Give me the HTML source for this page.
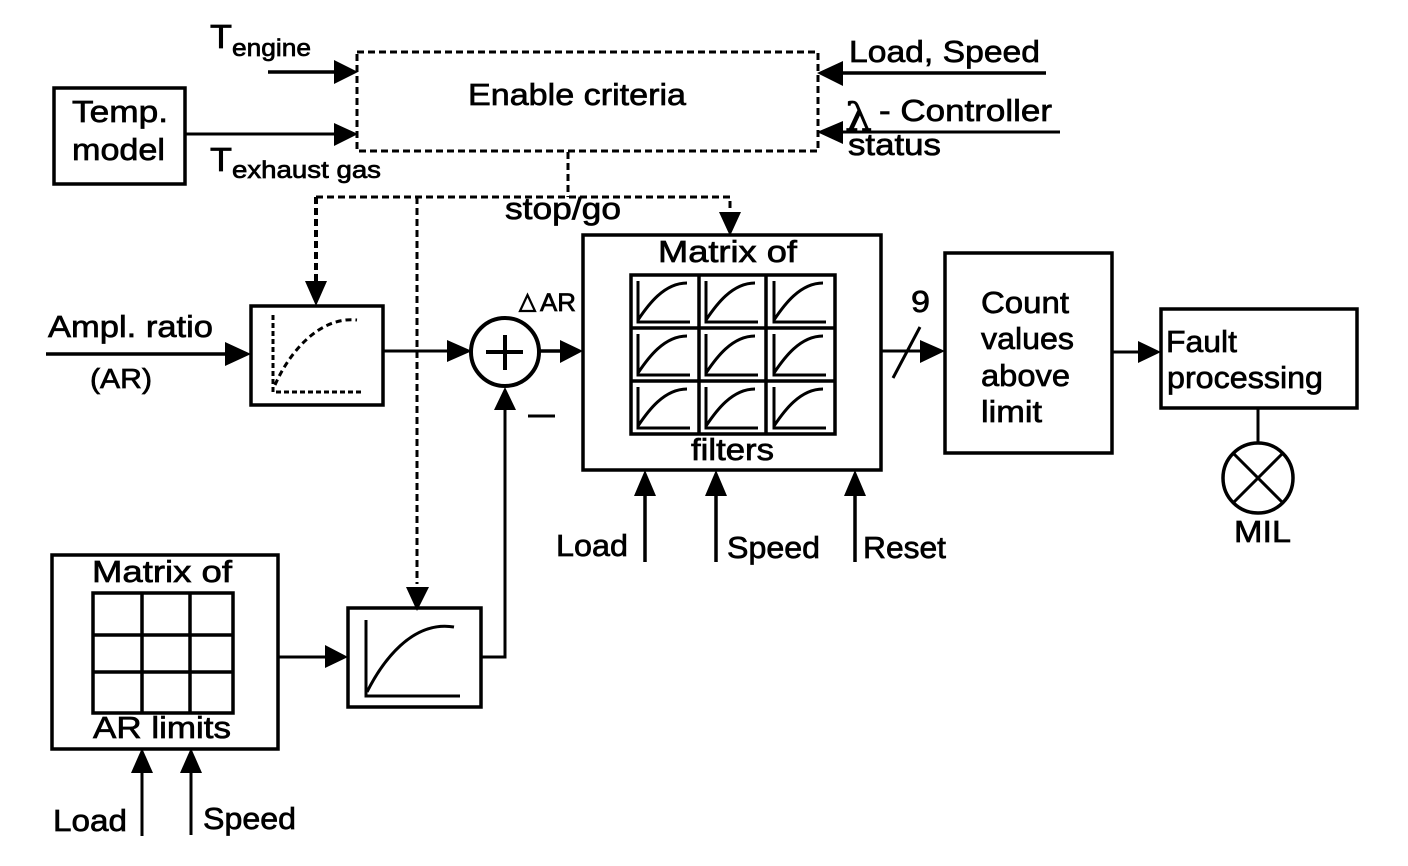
<!DOCTYPE html>
<html>
<head>
<meta charset="utf-8">
<style>
html,body{margin:0;padding:0;background:#fff}
svg{display:block}
text{font-family:"Liberation Sans",sans-serif;fill:#000;stroke:#000;stroke-width:.7px;font-size:31px}
.s{font-size:24px}
.b{fill:none;stroke:#000;stroke-width:3.5}
.t{fill:none;stroke:#000;stroke-width:3}
.d{fill:none;stroke:#000;stroke-width:3;stroke-dasharray:7 4}
.e{fill:none;stroke:#000;stroke-width:4;stroke-dasharray:7 4}
.c{fill:none;stroke:#000;stroke-width:3}
polygon{fill:#000;stroke:none}
</style>
</head>
<body>
<svg width="1408" height="866" viewBox="0 0 1408 866" xmlns="http://www.w3.org/2000/svg">
<defs>
<g id="m"><path class="c" d="M0 0V41H52"/><path class="c" d="M0 39C10 24 26 2 49 2"/></g>
</defs>
<rect width="1408" height="866" fill="#fff"/>

<!-- Top row -->
<rect class="b" x="54" y="88" width="131" height="96"/>
<text x="72" y="122" textLength="96" lengthAdjust="spacingAndGlyphs">Temp.</text>
<text x="72" y="160" textLength="93" lengthAdjust="spacingAndGlyphs">model</text>
<rect class="d" x="357" y="52" width="461" height="99"/>
<text x="468" y="105" textLength="218" lengthAdjust="spacingAndGlyphs">Enable criteria</text>

<text x="210" y="48" style="font-size:33px" textLength="22" lengthAdjust="spacingAndGlyphs">T</text>
<text class="s" x="232" y="56" textLength="79" lengthAdjust="spacingAndGlyphs">engine</text>
<text x="210" y="171" style="font-size:33px" textLength="22" lengthAdjust="spacingAndGlyphs">T</text>
<text class="s" x="232" y="178" textLength="149" lengthAdjust="spacingAndGlyphs">exhaust gas</text>
<path class="b" d="M268 72H340"/><polygon points="358,72 334,60 334,84"/>
<path class="t" d="M185 134H340"/><polygon points="358,134 334,123 334,146"/>

<text x="849" y="62" textLength="191" lengthAdjust="spacingAndGlyphs">Load, Speed</text>
<path class="b" d="M835 73H1046"/><polygon points="817,73 843,61 843,86"/>
<text x="845" y="130" style="font-family:'DejaVu Serif','Liberation Serif',serif;font-size:38px" textLength="27" lengthAdjust="spacingAndGlyphs">λ</text>
<text x="879" y="121" textLength="173" lengthAdjust="spacingAndGlyphs">- Controller</text>
<path class="t" d="M835 132H1060"/><polygon points="817,132 843,121 843,144"/>
<text x="848" y="155" textLength="93" lengthAdjust="spacingAndGlyphs">status</text>

<!-- stop/go dashed -->
<path class="d" d="M568 152V197"/>
<path class="d" d="M316 197H730V214"/>
<path class="e" d="M316 197V284"/>
<path class="d" d="M417 197V584"/>
<polygon points="316,306 305,281 327,281"/>
<polygon points="730,236 719,212 741,212"/>
<polygon points="417,611 406,587 429,587"/>
<text x="505" y="219" textLength="116" lengthAdjust="spacingAndGlyphs">stop/go</text>

<!-- AR row -->
<text x="48" y="337" textLength="165" lengthAdjust="spacingAndGlyphs">Ampl. ratio</text>
<text x="90" y="388" style="font-size:28px" textLength="62" lengthAdjust="spacingAndGlyphs">(AR)</text>
<path class="b" d="M46 354H232"/><polygon points="251,354 225,342 225,366"/>
<rect class="b" x="251" y="306" width="132" height="99"/>
<path d="M273 315V392H362" fill="none" stroke="#000" stroke-width="3" stroke-dasharray="5 3"/>
<path d="M275 385C288 355 318 316 357 320" fill="none" stroke="#000" stroke-width="3" stroke-dasharray="6 4"/>
<path class="t" d="M383 351H455"/><polygon points="472,351 447,340 447,362"/>
<circle cx="505" cy="352" r="34" fill="none" stroke="#000" stroke-width="4"/>
<path d="M486 352H523M505 335V370" fill="none" stroke="#000" stroke-width="4"/>
<path class="b" d="M539 351H565"/><polygon points="583,351 560,340 560,363"/>
<polygon points="520,311 535,311 527.5,295" style="fill:none;stroke:#000;stroke-width:2.2"/>
<text x="540" y="311" style="font-size:25px" textLength="36" lengthAdjust="spacingAndGlyphs">AR</text>
<path class="t" d="M505 405V657H481"/><polygon points="505,387 494,410 516,410"/>
<path d="M528 416H555" stroke="#000" stroke-width="3" fill="none"/>

<!-- Filter matrix -->
<rect class="b" x="583" y="235" width="298" height="235"/>
<text x="658" y="262" textLength="139" lengthAdjust="spacingAndGlyphs">Matrix of</text>
<rect class="b" x="631" y="275" width="204" height="159"/>
<path class="b" d="M699 275V434M766 275V434M631 328H835M631 381H835"/>
<use href="#m" x="638" y="281"/><use href="#m" x="706" y="281"/><use href="#m" x="774" y="281"/>
<use href="#m" x="638" y="334"/><use href="#m" x="706" y="334"/><use href="#m" x="774" y="334"/>
<use href="#m" x="638" y="387"/><use href="#m" x="706" y="387"/><use href="#m" x="774" y="387"/>
<text x="691" y="460" textLength="83" lengthAdjust="spacingAndGlyphs">filters</text>

<path class="b" d="M645 562V490"/><polygon points="645,470 634,496 656,496"/>
<path class="b" d="M716 562V490"/><polygon points="716,470 705,496 727,496"/>
<path class="b" d="M855 562V490"/><polygon points="855,470 844,496 866,496"/>
<text x="556" y="556" textLength="72" lengthAdjust="spacingAndGlyphs">Load</text>
<text x="727" y="558" textLength="93" lengthAdjust="spacingAndGlyphs">Speed</text>
<text x="863" y="558" textLength="83" lengthAdjust="spacingAndGlyphs">Reset</text>

<!-- Right chain -->
<text x="911" y="312" textLength="19" lengthAdjust="spacingAndGlyphs">9</text>
<path class="t" d="M881 351H925"/><polygon points="945,351 920,340 920,363"/>
<path class="t" d="M893 378L920 327"/>
<rect class="b" x="945" y="253" width="167" height="200"/>
<text x="981" y="313" textLength="88" lengthAdjust="spacingAndGlyphs">Count</text>
<text x="981" y="349" textLength="93" lengthAdjust="spacingAndGlyphs">values</text>
<text x="981" y="386" textLength="89" lengthAdjust="spacingAndGlyphs">above</text>
<text x="981" y="422" textLength="61" lengthAdjust="spacingAndGlyphs">limit</text>
<path class="t" d="M1112 352H1145"/><polygon points="1161,352 1138,341 1138,363"/>
<rect class="b" x="1161" y="309" width="196" height="99"/>
<text x="1166" y="352" textLength="71" lengthAdjust="spacingAndGlyphs">Fault</text>
<text x="1167" y="388" textLength="156" lengthAdjust="spacingAndGlyphs">processing</text>
<path class="t" d="M1258 408V444"/>
<circle cx="1258" cy="478" r="35" fill="none" stroke="#000" stroke-width="3.5"/>
<path class="t" d="M1233 453L1283 503M1283 453L1233 503"/>
<text x="1234" y="542" textLength="57" lengthAdjust="spacingAndGlyphs">MIL</text>

<!-- Lower left -->
<rect class="b" x="52" y="555" width="226" height="194"/>
<text x="92" y="582" textLength="140" lengthAdjust="spacingAndGlyphs">Matrix of</text>
<rect class="b" x="93" y="593" width="140" height="120"/>
<path class="b" d="M142 593V713M190 593V713M93 635H233M93 672H233"/>
<text x="93" y="738" textLength="138" lengthAdjust="spacingAndGlyphs">AR limits</text>
<path class="t" d="M142 836V765"/><polygon points="142,748 131,773 153,773"/>
<path class="t" d="M191 835V765"/><polygon points="191,748 180,773 202,773"/>
<text x="53" y="831" textLength="74" lengthAdjust="spacingAndGlyphs">Load</text>
<text x="203" y="829" textLength="93" lengthAdjust="spacingAndGlyphs">Speed</text>
<path class="t" d="M278 657H330"/><polygon points="348,657 325,645 325,668"/>
<rect class="b" x="348" y="608" width="133" height="99"/>
<path class="c" d="M366 620V696H460"/>
<path class="c" d="M367 692C382 662 412 620 454 627"/>
</svg>
</body>
</html>
